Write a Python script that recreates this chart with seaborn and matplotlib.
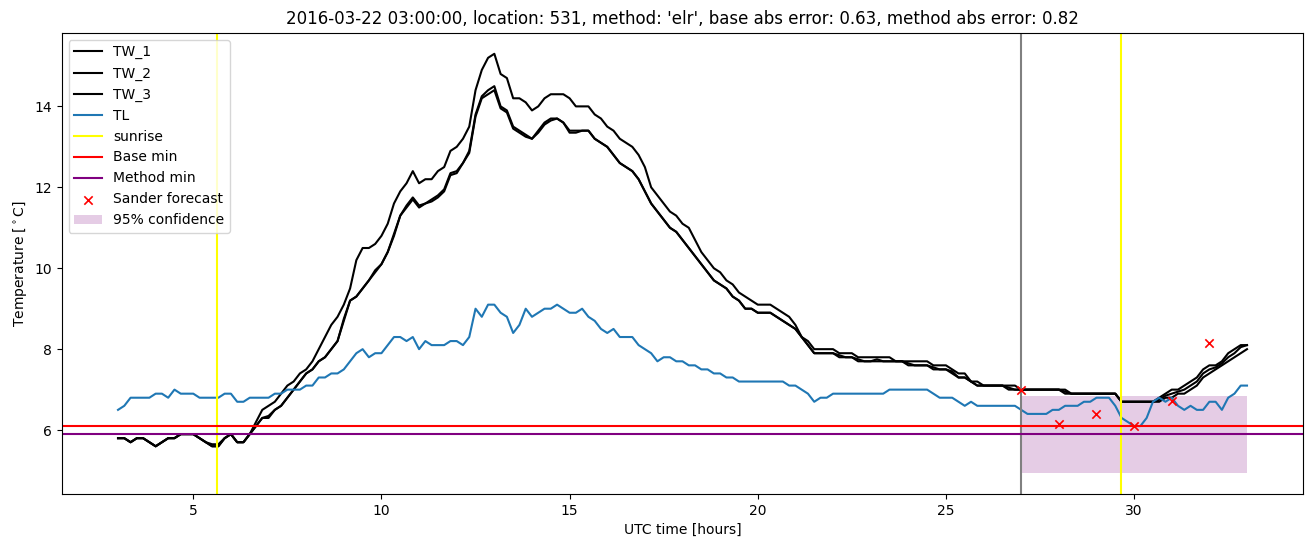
import numpy as np
import pandas as pd
import matplotlib
matplotlib.use("Agg")
import matplotlib.pyplot as plt
import seaborn as sns

# ---------------- data ----------------
# 10-minute samples from 03:00 to 33:00 (hours after 2016-03-22 00:00 UTC)
hours = np.round(np.arange(181) / 6.0 + 3.0, 4)

TW_1 = [
    5.8, 5.8, 5.7, 5.8, 5.8, 5.7,
    5.6, 5.7, 5.8, 5.8, 5.9, 5.9,
    5.9, 5.8, 5.7, 5.6, 5.6, 5.8,
    5.9, 5.7, 5.7, 5.9, 6.2, 6.5,
    6.6, 6.7, 6.9, 7.1, 7.2, 7.4,
    7.5, 7.7, 8.0, 8.3, 8.6, 8.8,
    9.1, 9.5, 10.2, 10.5, 10.5, 10.6,
    10.8, 11.1, 11.6, 11.9, 12.1, 12.4,
    12.1, 12.2, 12.2, 12.4, 12.5, 12.9,
    13.0, 13.2, 13.5, 14.4, 14.9, 15.2,
    15.3, 14.8, 14.7, 14.2, 14.2, 14.1,
    13.9, 14.0, 14.2, 14.3, 14.3, 14.3,
    14.2, 14.0, 14.0, 14.0, 13.8, 13.7,
    13.5, 13.4, 13.2, 13.1, 13.0, 12.8,
    12.5, 12.0, 11.8, 11.6, 11.4, 11.3,
    11.1, 11.0, 10.7, 10.4, 10.2, 10.0,
    9.9, 9.7, 9.6, 9.4, 9.3, 9.2,
    9.1, 9.1, 9.1, 9.0, 8.9, 8.8,
    8.6, 8.3, 8.2, 8.0, 8.0, 8.0,
    8.0, 7.9, 7.9, 7.9, 7.8, 7.8,
    7.8, 7.8, 7.8, 7.8, 7.7, 7.7,
    7.7, 7.7, 7.7, 7.7, 7.6, 7.6,
    7.6, 7.5, 7.4, 7.4, 7.2, 7.2,
    7.1, 7.1, 7.1, 7.1, 7.1, 7.1,
    7.0, 7.0, 7.0, 7.0, 7.0, 7.0,
    7.0, 7.0, 6.9, 6.9, 6.9, 6.9,
    6.9, 6.9, 6.9, 6.9, 6.7, 6.7,
    6.7, 6.7, 6.7, 6.7, 6.8, 6.9,
    7.0, 7.0, 7.1, 7.2, 7.3, 7.5,
    7.6, 7.6, 7.7, 7.9, 8.0, 8.1,
    8.1,
]

TW_2 = [
    5.8, 5.8, 5.7, 5.8, 5.8, 5.7,
    5.6, 5.7, 5.8, 5.8, 5.9, 5.9,
    5.9, 5.8, 5.7, 5.6, 5.6, 5.8,
    5.9, 5.7, 5.7, 5.9, 6.1, 6.3,
    6.3, 6.5, 6.6, 6.8, 7.0, 7.2,
    7.4, 7.5, 7.7, 7.8, 8.0, 8.2,
    8.75, 9.2, 9.3, 9.5, 9.7, 9.95,
    10.1, 10.4, 10.85, 11.3, 11.55, 11.75,
    11.55, 11.6, 11.7, 11.8, 11.95, 12.35,
    12.4, 12.6, 12.9, 13.8, 14.25, 14.4,
    14.5, 14.0, 13.9, 13.5, 13.4, 13.3,
    13.2, 13.4, 13.6, 13.7, 13.7, 13.6,
    13.4, 13.4, 13.4, 13.4, 13.2, 13.1,
    13.0, 12.8, 12.6, 12.5, 12.4, 12.2,
    11.9, 11.6, 11.4, 11.2, 11.0, 10.9,
    10.7, 10.5, 10.3, 10.1, 9.9, 9.7,
    9.6, 9.5, 9.3, 9.2, 9.0, 9.0,
    8.9, 8.9, 8.9, 8.8, 8.7, 8.6,
    8.5, 8.3, 8.1, 7.9, 7.9, 7.9,
    7.9, 7.8, 7.8, 7.8, 7.7, 7.7,
    7.7, 7.7, 7.7, 7.7, 7.7, 7.7,
    7.6, 7.6, 7.6, 7.6, 7.5, 7.5,
    7.5, 7.4, 7.3, 7.3, 7.2, 7.1,
    7.1, 7.1, 7.1, 7.1, 7.0, 7.0,
    7.0, 7.0, 7.0, 7.0, 7.0, 7.0,
    7.0, 6.9, 6.9, 6.9, 6.9, 6.9,
    6.9, 6.9, 6.9, 6.9, 6.7, 6.7,
    6.7, 6.7, 6.7, 6.7, 6.7, 6.8,
    6.8, 6.9, 6.9, 7.0, 7.1, 7.3,
    7.4, 7.5, 7.6, 7.7, 7.8, 7.9,
    8.0,
]

TW_3 = [
    5.8, 5.8, 5.7, 5.8, 5.8, 5.7,
    5.6, 5.7, 5.8, 5.8, 5.9, 5.9,
    5.9, 5.8, 5.7, 5.65, 5.65, 5.8,
    5.9, 5.7, 5.7, 5.9, 6.1, 6.3,
    6.35, 6.5, 6.6, 6.8, 7.0, 7.2,
    7.4, 7.5, 7.7, 7.8, 8.0, 8.2,
    8.7, 9.2, 9.3, 9.5, 9.7, 9.9,
    10.1, 10.4, 10.8, 11.3, 11.5, 11.7,
    11.5, 11.6, 11.65, 11.75, 11.9, 12.3,
    12.35, 12.6, 12.85, 13.75, 14.2, 14.3,
    14.4, 13.95, 13.85, 13.45, 13.35, 13.25,
    13.2, 13.35, 13.55, 13.65, 13.7, 13.6,
    13.35, 13.35, 13.4, 13.4, 13.2, 13.1,
    13.0, 12.8, 12.6, 12.5, 12.4, 12.2,
    11.9, 11.6, 11.4, 11.2, 11.0, 10.9,
    10.7, 10.5, 10.3, 10.1, 9.9, 9.7,
    9.6, 9.5, 9.3, 9.2, 9.0, 9.0,
    8.9, 8.9, 8.9, 8.8, 8.7, 8.6,
    8.5, 8.3, 8.1, 7.9, 7.9, 7.9,
    7.9, 7.85, 7.8, 7.8, 7.75, 7.7,
    7.7, 7.75, 7.7, 7.7, 7.7, 7.7,
    7.65, 7.6, 7.6, 7.6, 7.55, 7.5,
    7.5, 7.45, 7.3, 7.3, 7.2, 7.1,
    7.1, 7.1, 7.1, 7.1, 7.05, 7.0,
    7.0, 7.0, 7.0, 7.0, 7.0, 7.0,
    7.0, 6.95, 6.9, 6.9, 6.9, 6.9,
    6.9, 6.9, 6.9, 6.9, 6.7, 6.7,
    6.7, 6.7, 6.7, 6.7, 6.75, 6.85,
    6.9, 6.95, 7.0, 7.1, 7.2, 7.4,
    7.5, 7.55, 7.65, 7.8, 7.9, 8.05,
    8.1,
]

TL = [
    6.5, 6.6, 6.8, 6.8, 6.8, 6.8,
    6.9, 6.9, 6.8, 7.0, 6.9, 6.9,
    6.9, 6.8, 6.8, 6.8, 6.8, 6.9,
    6.9, 6.7, 6.7, 6.8, 6.8, 6.8,
    6.8, 6.9, 6.9, 7.0, 7.0, 7.0,
    7.1, 7.1, 7.3, 7.3, 7.4, 7.4,
    7.5, 7.7, 7.9, 8.0, 7.8, 7.9,
    7.9, 8.1, 8.3, 8.3, 8.2, 8.3,
    8.0, 8.2, 8.1, 8.1, 8.1, 8.2,
    8.2, 8.1, 8.3, 9.0, 8.8, 9.1,
    9.1, 8.9, 8.8, 8.4, 8.6, 9.0,
    8.8, 8.9, 9.0, 9.0, 9.1, 9.0,
    8.9, 8.9, 9.0, 8.8, 8.7, 8.5,
    8.4, 8.5, 8.3, 8.3, 8.3, 8.1,
    8.0, 7.9, 7.7, 7.8, 7.8, 7.7,
    7.7, 7.6, 7.6, 7.5, 7.5, 7.4,
    7.4, 7.3, 7.3, 7.2, 7.2, 7.2,
    7.2, 7.2, 7.2, 7.2, 7.2, 7.1,
    7.1, 7.0, 6.9, 6.7, 6.8, 6.8,
    6.9, 6.9, 6.9, 6.9, 6.9, 6.9,
    6.9, 6.9, 6.9, 7.0, 7.0, 7.0,
    7.0, 7.0, 7.0, 7.0, 6.9, 6.8,
    6.8, 6.8, 6.7, 6.6, 6.7, 6.6,
    6.6, 6.6, 6.6, 6.6, 6.6, 6.6,
    6.5, 6.4, 6.4, 6.4, 6.4, 6.5,
    6.5, 6.6, 6.6, 6.6, 6.7, 6.7,
    6.8, 6.8, 6.8, 6.6, 6.3, 6.2,
    6.1, 6.1, 6.3, 6.7, 6.8, 6.7,
    6.8, 6.6, 6.5, 6.6, 6.5, 6.5,
    6.7, 6.7, 6.5, 6.8, 6.9, 7.1,
    7.1,
]

sunrise_hours = [5.64, 29.65]
forecast_start = 27.0
base_min = 6.10
method_min = 5.91
sander_hours = [27, 28, 29, 30, 31, 32]
sander_temps = [7.0, 6.14, 6.39, 6.1, 6.71, 8.16]
conf_hours = [27.0, 33.0]
conf_low = 4.94
conf_high = 6.84

title = ("2016-03-22 03:00:00, location: 531, method: 'elr', "
         "base abs error: 0.63, method abs error: 0.82")

# ---------------- plot ----------------
fig, ax = plt.subplots(figsize=(13.1, 5.47), dpi=100)
fig.subplots_adjust(left=0.047, right=0.995, top=0.94, bottom=0.097)

series = [("TW_1", TW_1, "black"), ("TW_2", TW_2, "black"),
          ("TW_3", TW_3, "black"), ("TL", TL, "#1f77b4")]
for name, vals, col in series:
    df = pd.DataFrame({"hours": hours, "temp": vals})
    sns.lineplot(data=df, x="hours", y="temp", color=col, label=name,
                 ax=ax, linewidth=1.5)

for i, h in enumerate(sunrise_hours):
    ax.axvline(h, color="yellow", label="sunrise" if i == 0 else None)
ax.axvline(forecast_start, color="grey")
ax.axhline(base_min, color="red", label="Base min")
ax.axhline(method_min, color="purple", label="Method min")
sns.scatterplot(x=sander_hours, y=sander_temps, marker="x", color="red",
                s=36, linewidth=1.2, label="Sander forecast", ax=ax, zorder=3)
ax.fill_between(conf_hours, conf_low, conf_high, color="purple", alpha=0.2,
                linewidth=0, label="95% confidence")

ax.set_xlabel("UTC time [hours]")
ax.set_ylabel("Temperature [$^\\circ$C]")
ax.set_title(title)
ax.legend(loc="upper left")

fig.savefig("out.png", dpi=100)
